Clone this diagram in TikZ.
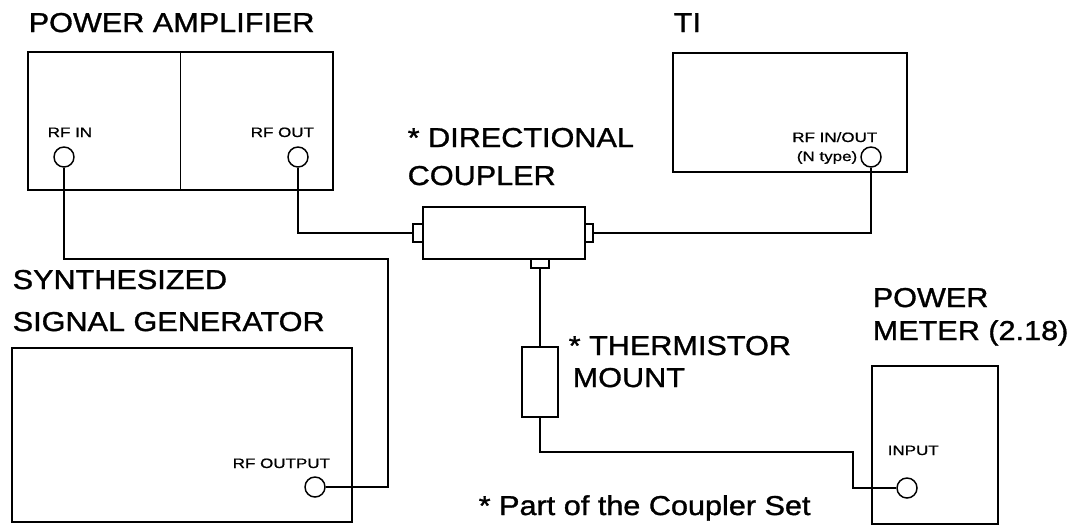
\documentclass[tikz,border=0pt]{standalone}
\usepackage{fontspec}
\setmainfont{Liberation Sans}
\newfontfamily\titlefont[FakeStretch=1.12, FakeBold=1.2]{Liberation Sans}
\newfontfamily\portfont[FakeStretch=1.25, FakeBold=0.8]{Liberation Sans}
\usepackage{tikz}
\newcommand{\pxu}{0.75pt}

\begin{document}
\begin{tikzpicture}[x=0.75pt, y=-0.75pt, line width=1.1pt,
    title/.style={inner sep=0pt, anchor=base west, font=\titlefont\fontsize{20.5pt}{24pt}\selectfont},
    portlabel/.style={inner sep=0pt, font=\portfont\fontsize{10.2pt}{12pt}\selectfont},
    unitbox/.style={draw, inner sep=0pt},
    port/.style={draw, circle, inner sep=0pt, minimum size=20*\pxu},
    plug/.style={draw, inner sep=0pt}]
    \useasboundingbox (0,0) rectangle (1077,529);
    % power amplifier
    \node[title] (patitle) at (28,32) {POWER AMPLIFIER};
    \node[unitbox, minimum width=305*\pxu, minimum height=138*\pxu] (pa) at (180.5,121) {};
    \draw (pa.north) -- (pa.south);
    \node[portlabel, anchor=base west] (rfinlabel) at (47,137) {RF IN};
    \node[port] (rfin) at (64,157) {};
    \node[portlabel, anchor=base west] (rfoutlabel) at (250,137) {RF OUT};
    \node[port] (rfout) at (298,157) {};
    % TI
    \node[title] (tititle) at (673,32) {TI};
    \node[unitbox, minimum width=234*\pxu, minimum height=119*\pxu] (ti) at (790,112.5) {};
    \node[portlabel, anchor=base east] (tilabel) at (878,142) {RF IN/OUT};
    \node[portlabel, anchor=base east] (tinote) at (858,161) {(N type)};
    \node[port] (tiport) at (871,157) {};
    % directional coupler
    \node[title] (cpltitle) at (407,147) {* DIRECTIONAL};
    \node[title] (cpltitleb) at (407,185) {COUPLER};
    \node[unitbox, minimum width=162*\pxu, minimum height=52*\pxu] (cpl) at (504,233) {};
    \node[plug, minimum width=10*\pxu, minimum height=18*\pxu] (cplL) at (418,233) {};
    \node[plug, minimum width=8*\pxu, minimum height=18*\pxu] (cplR) at (589,233) {};
    \node[plug, minimum width=18*\pxu, minimum height=9*\pxu] (cplB) at (540,263.5) {};
    % thermistor mount
    \node[unitbox, minimum width=36*\pxu, minimum height=70*\pxu] (therm) at (540,382) {};
    \node[title] (thtitle) at (568,355) {* THERMISTOR};
    \node[title] (thtitleb) at (572,387) {MOUNT};
    % power meter
    \node[title] (pmtitle) at (872,307) {POWER};
    \node[title] (pmtitleb) at (872,340) {METER (2.18)};
    \node[unitbox, minimum width=126*\pxu, minimum height=158*\pxu] (pm) at (935,445) {};
    \node[portlabel, anchor=base west] (pmlabel) at (887,455) {INPUT};
    \node[port] (pmport) at (907,488) {};
    % synthesized signal generator
    \node[title] (sgtitle) at (12,289) {SYNTHESIZED};
    \node[title] (sgtitleb) at (12,331) {SIGNAL GENERATOR};
    \node[unitbox, minimum width=340*\pxu, minimum height=174*\pxu] (sg) at (182,435) {};
    \node[portlabel, anchor=base west] (sglabel) at (232,468) {RF OUTPUT};
    \node[port] (sgport) at (315,487) {};
    \node[title] (note) at (478,515) {* Part of the Coupler Set};
    % cables
    \coordinate (sgbend) at (388,259);
    \coordinate (pmbend) at (853,452);
    \draw (rfin.south) |- (sgbend) |- (sgport.east);
    \draw (rfout.south) |- (cplL.west);
    \draw (cplR.east) -| (tiport.south);
    \draw (cplB.south) -- (therm.north);
    \draw (therm.south) |- (pmbend) |- (pmport.west);
\end{tikzpicture}
\end{document}
